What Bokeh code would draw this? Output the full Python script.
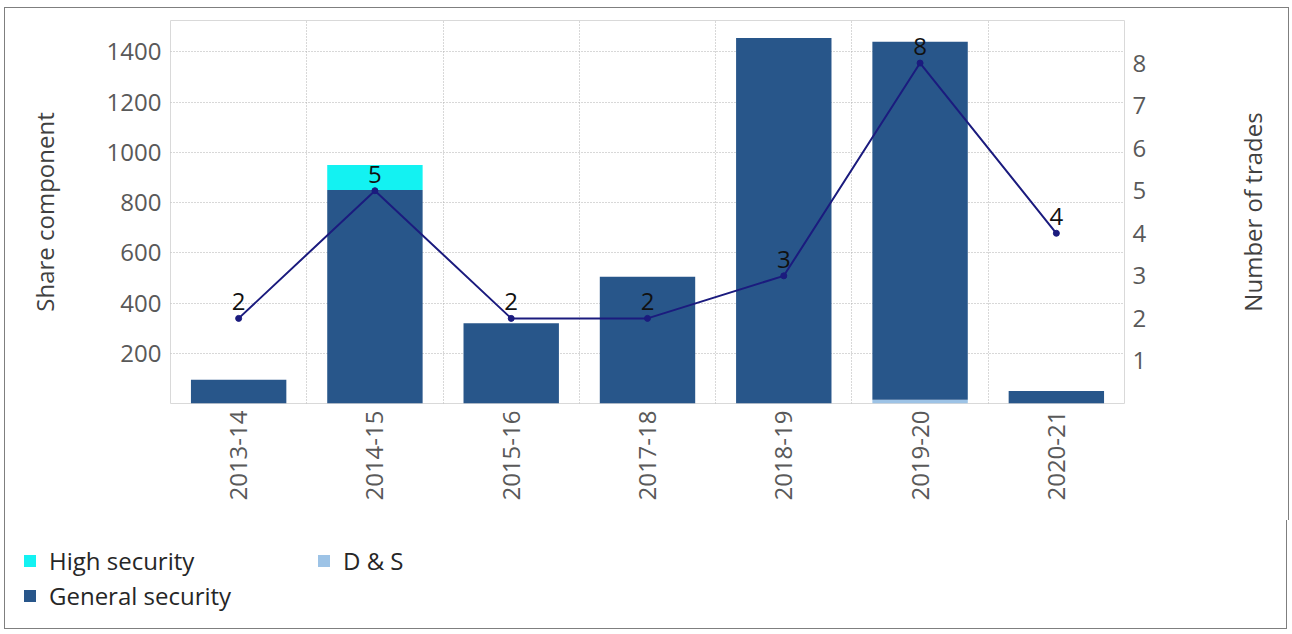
import math
from bokeh.plotting import figure
from bokeh.layouts import row
from bokeh.models import (Range1d, LinearAxis, FixedTicker, ColumnDataSource, Legend,
                          LegendItem)
from bokeh.core.properties import value
from bokeh.embed import file_html
from bokeh.resources import INLINE

years = ["2013-14", "2014-15", "2015-16", "2017-18", "2018-19", "2019-20", "2020-21"]
ds_vals = [0, 0, 0, 0, 0, 15, 0]
general_vals = [95, 850, 320, 505, 1455, 1425, 50]
high_vals = [0, 100, 0, 0, 0, 0, 0]
trades = [2, 5, 2, 2, 3, 8, 4]
left_ticks = [200, 400, 600, 800, 1000, 1200, 1400]
right_ticks = [1, 2, 3, 4, 5, 6, 7, 8]
stack_keys = ["ds", "general", "high"]
series_names = ["D & S", "General security", "High security"]
series_colors = ["#9dc3e6", "#28568a", "#13f2f2"]

FONT = "Open Sans"
TICK_COLOR = "#595959"
BORDER = "1px solid #7f7f7f"

xs = [i + 0.5 for i in range(len(years))]
src = ColumnDataSource(dict(x=xs, ds=ds_vals, general=general_vals, high=high_vals,
                            trades=trades, lbl=[str(t) for t in trades]))

# ---------------- main chart ----------------
p = figure(width=1225, height=512, output_backend="svg", toolbar_location=None,
           x_range=Range1d(0, len(years)), y_range=Range1d(0, 1525),
           min_border_left=165, min_border_right=106, min_border_top=12,
           min_border_bottom=117)
p.extra_y_ranges = {"trades": Range1d(0, 9)}
p.outline_line_color = "#d9d9d9"
p.outline_line_width = 1
p.background_fill_color = "white"
p.border_fill_color = "white"

p.vbar_stack(stack_keys, x="x", width=0.7, source=src,
             color=series_colors, line_color=None)

p.line("x", "trades", source=src, y_range_name="trades", line_color="#1b1b7e", line_width=2)
p.scatter("x", "trades", source=src, y_range_name="trades", size=6,
          fill_color="#1b1b7e", line_color="#1b1b7e")
p.text("x", "trades", text="lbl", source=src, y_range_name="trades",
       text_align="center", text_baseline="bottom", y_offset=-8,
       text_font=value(FONT), text_font_size="24px", text_color="#111111")

p.xaxis.ticker = FixedTicker(ticks=xs)
p.xaxis.major_label_overrides = {x: y for x, y in zip(xs, years)}
p.xaxis.major_label_orientation = math.pi / 2

p.yaxis.ticker = FixedTicker(ticks=left_ticks)
p.yaxis.axis_label = "Share component"

right = LinearAxis(y_range_name="trades", ticker=FixedTicker(ticks=right_ticks))
p.add_layout(right, "right")

for ax in [p.xaxis[0], p.yaxis[0], right]:
    ax.axis_line_color = None
    ax.major_tick_line_color = None
    ax.minor_tick_line_color = None
    ax.major_tick_in = 0
    ax.major_tick_out = 0
    ax.major_label_text_font = FONT
    ax.major_label_text_font_size = "24px"
    ax.major_label_text_color = TICK_COLOR
    ax.axis_label_text_font = FONT
    ax.axis_label_text_font_size = "24px"
    ax.axis_label_text_font_style = "normal"
    ax.axis_label_text_color = "#404040"
p.xaxis.major_label_standoff = 7
p.yaxis.major_label_standoff = 9
p.yaxis.axis_label_standoff = 43
right.major_label_standoff = 8

p.ygrid.ticker = FixedTicker(ticks=left_ticks)
p.ygrid.grid_line_color = "#b0b0b0"
p.ygrid.grid_line_dash = "1 2"
p.xgrid.ticker = FixedTicker(ticks=list(range(1, len(years))))
p.xgrid.grid_line_color = "#b0b0b0"
p.xgrid.grid_line_dash = "1 2"

# ---------------- right axis title (reads bottom-to-top) ----------------
prt = figure(width=58, height=512, output_backend="svg", toolbar_location=None,
             x_range=Range1d(0, 1), y_range=Range1d(0, 1),
             min_border_left=0, min_border_right=0, min_border_top=12,
             min_border_bottom=117)
prt.axis.visible = False
prt.grid.visible = False
prt.outline_line_color = None
prt.border_fill_color = "white"
prt.text(x=[0.38], y=[0.5], text=["Number of trades"], angle=math.pi / 2,
         text_align="center", text_baseline="middle",
         text_font=value(FONT), text_font_size="24px", text_color="#404040")

top = row(p, prt, spacing=0)
top.styles = {"border": BORDER, "border-bottom": "none",
              "margin-left": "4px", "margin-top": "7px"}

# ---------------- legend strip ----------------
p2 = figure(width=1283, height=109, output_backend="svg", toolbar_location=None,
            x_range=Range1d(-20, -10), y_range=Range1d(0, 1),
            min_border_left=0, min_border_right=0,
            min_border_top=0, min_border_bottom=0)
p2.axis.visible = False
p2.grid.visible = False
p2.outline_line_color = None
p2.border_fill_color = "white"
leg_r = {}
for key, name, col in zip(stack_keys, series_names, series_colors):
    leg_r[name] = p2.vbar(x="x", top=key, width=0.7, source=src, color=col, line_color=None)

legend = Legend(items=[
    LegendItem(label="High security", renderers=[leg_r["High security"]]),
    LegendItem(label="General security", renderers=[leg_r["General security"]]),
    LegendItem(label="D & S", renderers=[leg_r["D & S"]]),
], orientation="vertical", ncols=2, location=(17, 17),
    label_text_font=FONT, label_text_font_size="24px", label_text_color="#262626",
    glyph_width=15, glyph_height=15, label_standoff=12, spacing=2,
    label_height=24, label_width=265,
    padding=0, margin=0, border_line_color=None, background_fill_alpha=0)
p2.add_layout(legend, "center")
p2.styles = {"border": BORDER, "border-top": "none", "margin-left": "4px"}

open("out.html", "w").write(file_html([top, p2], INLINE))
